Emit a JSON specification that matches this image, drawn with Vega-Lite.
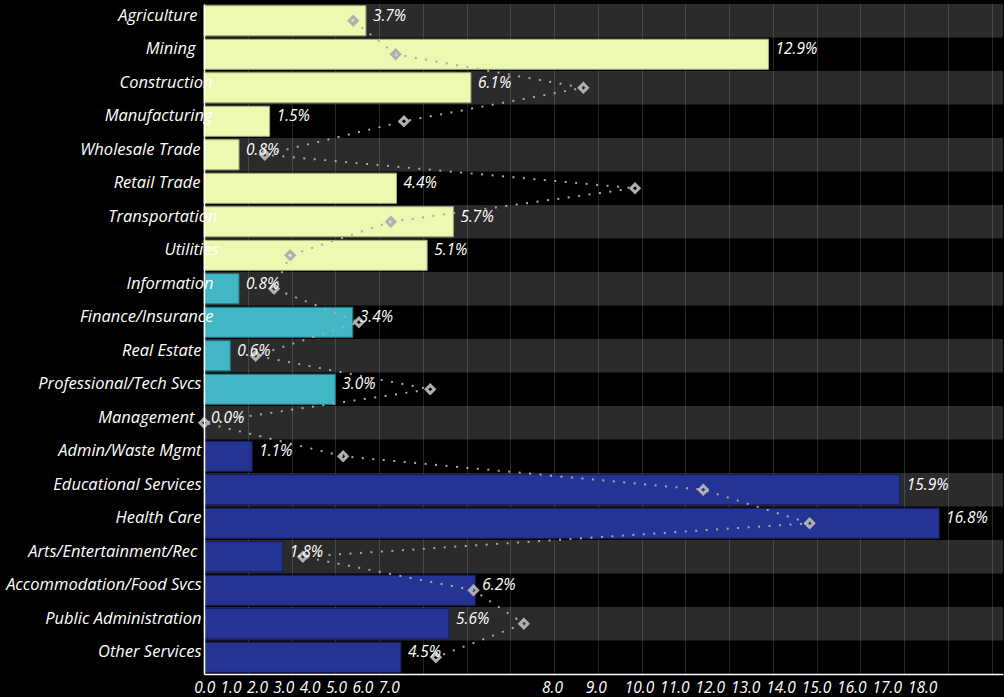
{
  "$schema": "https://vega.github.io/schema/vega-lite/v6.json",
  "width": 799,
  "height": 670,
  "autosize": {"type": "none"},
  "padding": {"left": 204, "top": 4, "right": 1, "bottom": 23},
  "background": "#000000",
  "config": {"view": {"stroke": null}},
  "data": {
    "values": [
      {"idx": 0, "sector": "Agriculture", "group": "A", "share": 3.7, "comp": 3.41},
      {"idx": 1, "sector": "Mining", "group": "A", "share": 12.9, "comp": 4.38},
      {"idx": 2, "sector": "Construction", "group": "A", "share": 6.1, "comp": 8.67},
      {"idx": 3, "sector": "Manufacturing", "group": "A", "share": 1.5, "comp": 4.57},
      {"idx": 4, "sector": "Wholesale Trade", "group": "A", "share": 0.8, "comp": 1.39},
      {"idx": 5, "sector": "Retail Trade", "group": "A", "share": 4.4, "comp": 9.85},
      {"idx": 6, "sector": "Transportation", "group": "A", "share": 5.7, "comp": 4.27},
      {"idx": 7, "sector": "Utilities", "group": "A", "share": 5.1, "comp": 1.97},
      {"idx": 8, "sector": "Information", "group": "B", "share": 0.8, "comp": 1.60},
      {"idx": 9, "sector": "Finance/Insurance", "group": "B", "share": 3.4, "comp": 3.54},
      {"idx": 10, "sector": "Real Estate", "group": "B", "share": 0.6, "comp": 1.18},
      {"idx": 11, "sector": "Professional/Tech Svcs", "group": "B", "share": 3.0, "comp": 5.17},
      {"idx": 12, "sector": "Management", "group": "C", "share": 0.0, "comp": 0.0},
      {"idx": 13, "sector": "Admin/Waste Mgmt", "group": "C", "share": 1.1, "comp": 3.18},
      {"idx": 14, "sector": "Educational Services", "group": "C", "share": 15.9, "comp": 11.41},
      {"idx": 15, "sector": "Health Care", "group": "C", "share": 16.8, "comp": 13.84},
      {"idx": 16, "sector": "Arts/Entertainment/Rec", "group": "C", "share": 1.8, "comp": 2.26},
      {"idx": 17, "sector": "Accommodation/Food Svcs", "group": "C", "share": 6.2, "comp": 6.16},
      {"idx": 18, "sector": "Public Administration", "group": "C", "share": 5.6, "comp": 7.31},
      {"idx": 19, "sector": "Other Services", "group": "C", "share": 4.5, "comp": 5.30}
    ]
  },
  "encoding": {
    "y": {
      "field": "sector",
      "type": "nominal",
      "sort": ["Agriculture", "Mining", "Construction", "Manufacturing", "Wholesale Trade", "Retail Trade", "Transportation", "Utilities", "Information", "Finance/Insurance", "Real Estate", "Professional/Tech Svcs", "Management", "Admin/Waste Mgmt", "Educational Services", "Health Care", "Arts/Entertainment/Rec", "Accommodation/Food Svcs", "Public Administration", "Other Services"],
      "scale": {"paddingInner": 0, "paddingOuter": 0},
      "axis": {
        "title": null,
        "ticks": false,
        "tickSize": 0,
        "grid": false,
        "zindex": 1,
        "domainColor": "#ffffff",
        "domainWidth": 1.5,
        "labelColor": "#ffffff",
        "labelFont": "Open Sans",
        "labelFontStyle": "italic",
        "labelFontSize": 16.5,
        "labelBaseline": "alphabetic",
        "labelLimit": 400,
        "labelPadding": {"expr": "datum.value == 'Construction' || datum.value == 'Manufacturing' ? -8 : datum.value == 'Transportation' ? -13 : datum.value == 'Utilities' ? -14 : (datum.value == 'Information' || datum.value == 'Finance/Insurance') ? -9 : (datum.value == 'Agriculture' || datum.value == 'Arts/Entertainment/Rec') ? 7 : datum.value == 'Mining' ? 9 : datum.value == 'Management' ? 10 : (datum.value == 'Wholesale Trade' || datum.value == 'Retail Trade') ? 4 : 3"}
      }
    }
  },
  "layer": [
    {
      "transform": [{"filter": "datum.idx % 2 == 0"}],
      "mark": {"type": "rect", "color": "#ffffff", "opacity": 0.17},
      "encoding": {
        "x": {
          "datum": 0,
          "type": "quantitative",
          "scale": {"domain": [0, 18.26], "nice": false, "zero": true},
          "axis": {
            "title": null,
            "values": [0, 0.5, 1, 1.5, 2, 2.5, 3, 3.5, 4, 4.5, 5, 5.5, 6, 6.5, 7, 7.5, 8, 8.5, 9, 9.5, 10, 10.5, 11, 11.5, 12, 12.5, 13, 13.5, 14, 14.5, 15, 15.5, 16, 16.5, 17, 17.5, 18],
            "labelExpr": "datum.value % 1 == 0 ? format(datum.value, '.1f') : ''",
            "labelOffset": {"expr": "datum.value <= 7 ? 0.2 - 17.39 * datum.value : (datum.value < 10 ? -2 : -2.6 - 8.36 * (datum.value - 10))"},
            "labelFlush": false,
            "labelOverlap": false,
            "labelBound": false,
            "ticks": false,
            "tickSize": 0,
            "grid": true,
            "gridColor": "#ffffff",
            "gridOpacity": 0.14,
            "gridWidth": 1,
            "domainColor": "#ffffff",
            "domainWidth": 1.5,
            "labelColor": "#ffffff",
            "labelFont": "Open Sans",
            "labelFontStyle": "italic",
            "labelFontSize": 15.5,
            "labelBaseline": "alphabetic",
            "labelPadding": 18
          }
        },
        "x2": {"datum": 18.26}
      }
    },
    {
      "mark": {"type": "bar", "height": {"band": 0.9}, "strokeWidth": 1},
      "encoding": {
        "x": {"field": "share", "type": "quantitative"},
        "color": {
          "field": "group",
          "type": "nominal",
          "scale": {"domain": ["A", "B", "C"], "range": ["#edf8b1", "#41b6c4", "#253494"]},
          "legend": null
        },
        "stroke": {
          "field": "group",
          "type": "nominal",
          "scale": {"domain": ["A", "B", "C"], "range": ["#9fa878", "#1f7885", "#151e5c"]},
          "legend": null
        }
      }
    },
    {
      "mark": {"type": "line", "color": "#aaaaaa", "strokeWidth": 2, "strokeDash": [2, 8.5], "strokeCap": "butt"},
      "encoding": {
        "x": {"field": "comp", "type": "quantitative"},
        "order": {"field": "idx", "type": "quantitative"}
      }
    },
    {
      "mark": {"type": "point", "shape": "diamond", "filled": false, "stroke": "#b0b0b0", "strokeWidth": 3, "size": 66, "opacity": 1},
      "encoding": {
        "x": {"field": "comp", "type": "quantitative"}
      }
    },
    {
      "transform": [{"calculate": "format(datum.share, '.1f') + '%'", "as": "label"}],
      "mark": {"type": "text", "align": "left", "baseline": "alphabetic", "dx": 7, "color": "#ffffff", "font": "Open Sans", "fontStyle": "italic", "fontSize": 15.5},
      "encoding": {
        "x": {"field": "share", "type": "quantitative"},
        "text": {"field": "label", "type": "nominal"}
      }
    }
  ]
}
